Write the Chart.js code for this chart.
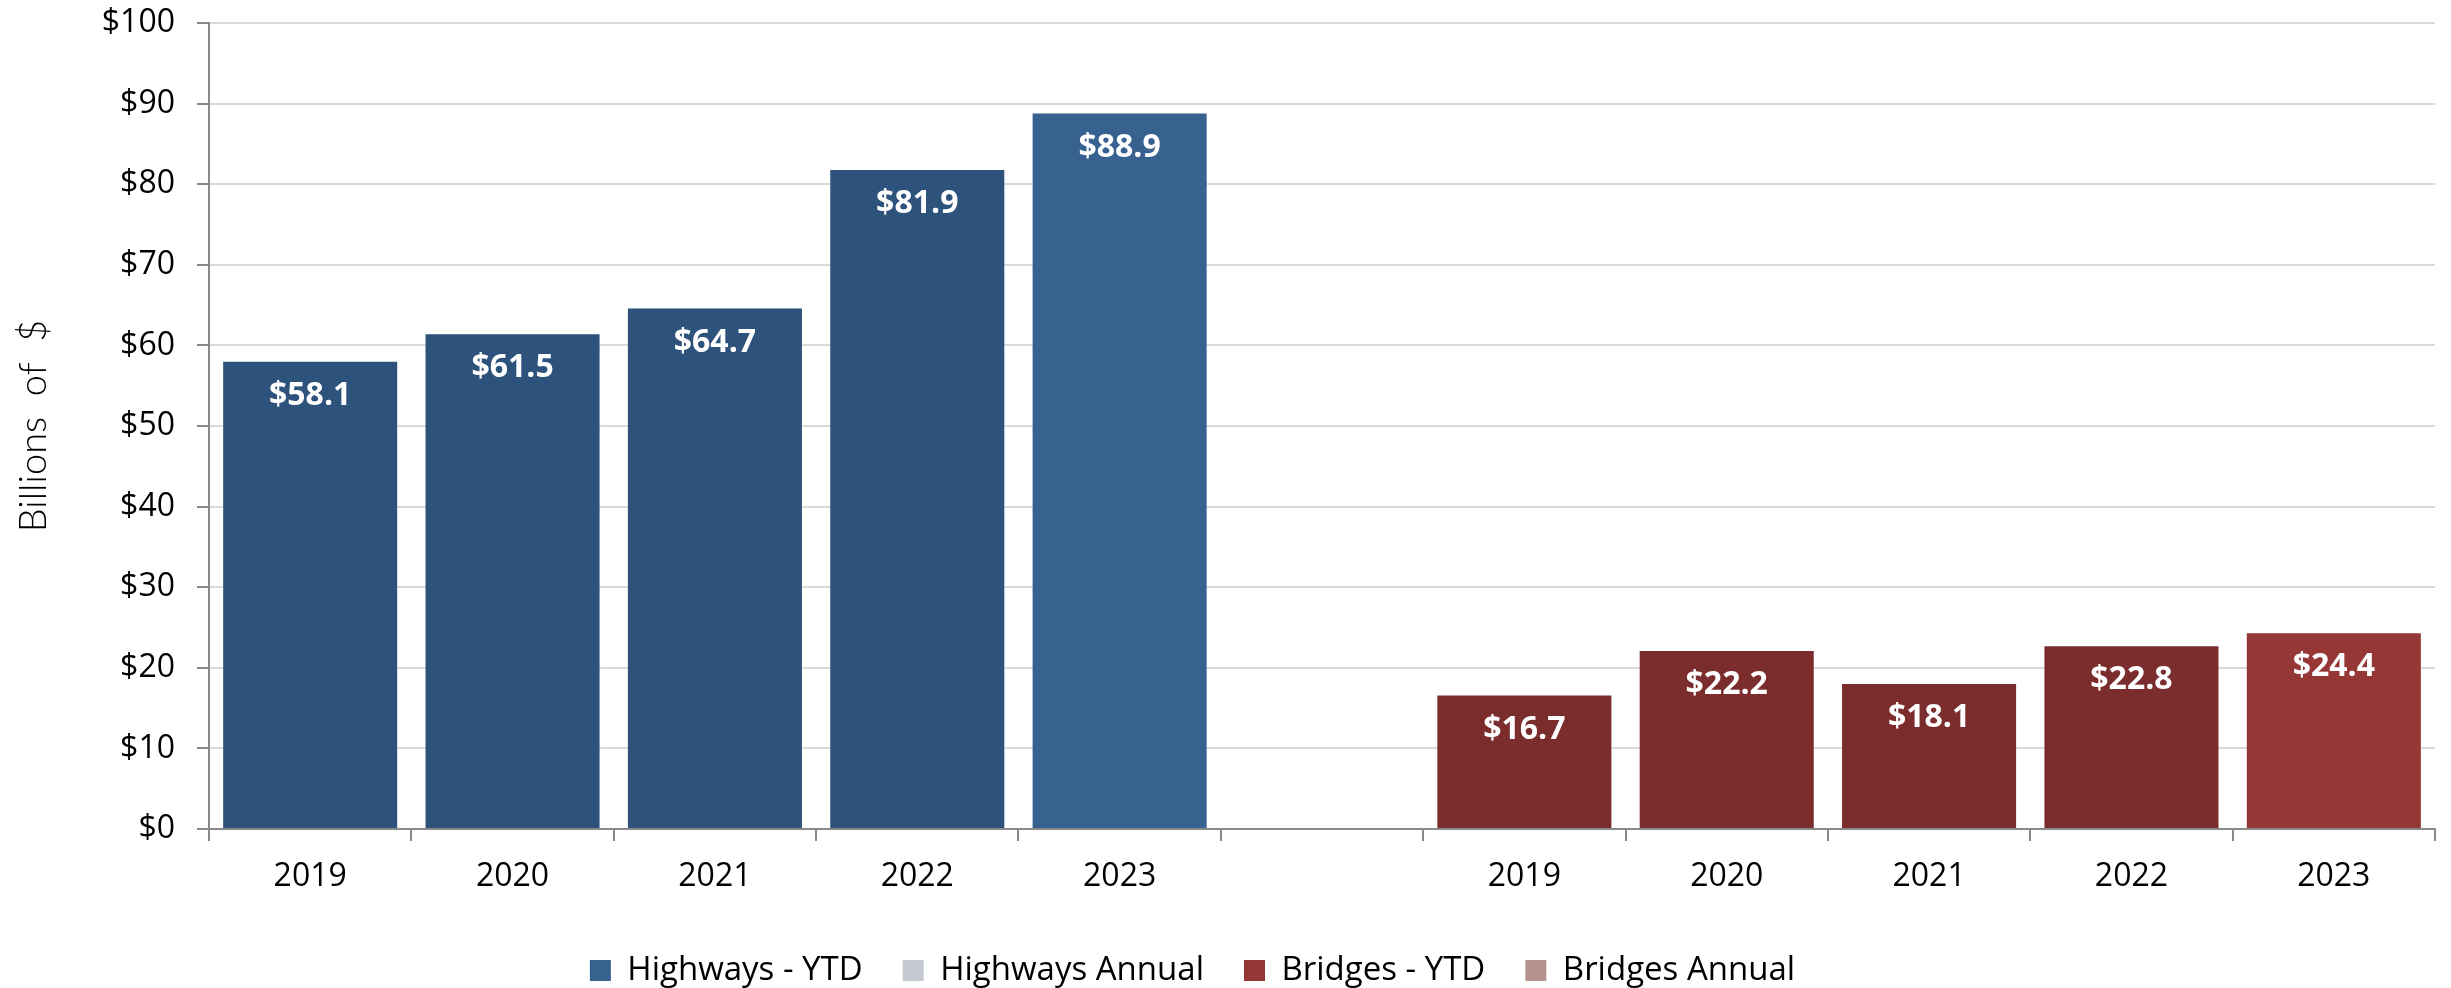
<!DOCTYPE html>
<html>
<head>
<meta charset="utf-8">
<script src="https://cdn.jsdelivr.net/npm/chart.js@4.4.1/dist/chart.umd.min.js"></script>
<style>
  html, body { margin: 0; padding: 0; background: #fff; }
  #wrap { width: 2451px; height: 988px; }
</style>
</head>
<body>
<div id="wrap"><canvas id="chart" width="2451" height="988"></canvas></div>
<script>
// categories (blank slot separates the two groups)
const categories = ['2019', '2020', '2021', '2022', '2023', '', '2019', '2020', '2021', '2022', '2023'];

// values in billions of dollars
const highwaysYTD = [58.1, 61.5, 64.7, 81.9, 88.9, null, null, null, null, null, null];
const highwaysAnnual = [null, null, null, null, null, null, null, null, null, null, null];
const bridgesYTD = [null, null, null, null, null, null, 16.7, 22.2, 18.1, 22.8, 24.4];
const bridgesAnnual = [null, null, null, null, null, null, null, null, null, null, null];

const yTicks = [0, 10, 20, 30, 40, 50, 60, 70, 80, 90, 100];

// colours
const blueDark = '#2D527C';
const blueLight = '#37618F';
const redDark = '#7B2D2E';
const redLight = '#953735';

const highwayColors = categories.map((c, i) => i === 4 ? blueLight : blueDark);
const bridgeColors = categories.map((c, i) => i === 10 ? redLight : redDark);

// draw the white value labels just under the top of each bar
const valueLabels = {
    id: 'valueLabels',
    afterDatasetsDraw(chart) {
        const ctx = chart.ctx;
        ctx.save();
        ctx.font = 'bold 32px "Open Sans"';
        ctx.fillStyle = '#FFFFFF';
        ctx.textAlign = 'center';
        ctx.textBaseline = 'middle';
        chart.data.datasets.forEach((ds, di) => {
            const meta = chart.getDatasetMeta(di);
            meta.data.forEach((bar, i) => {
                const v = ds.data[i];
                if (v === null || v === undefined) return;
                ctx.fillText('$' + v.toFixed(1), bar.x, bar.y + 35);
            });
        });
        ctx.restore();
    }
};

// nudge the legend to where the original sits
const legendShift = {
    id: 'legendShift',
    afterUpdate(chart) {
        chart.legend.left -= 25;
        chart.legend.right -= 25;
    }
};

const ctx = document.getElementById('chart');

new Chart(ctx, {
    type: 'bar',
    data: {
        labels: categories,
        datasets: [
            {
                label: 'Highways - YTD',
                data: highwaysYTD,
                backgroundColor: highwayColors,
                borderColor: 'rgba(255,255,255,0.25)',
                borderWidth: 1
            },
            {
                label: 'Highways Annual',
                data: highwaysAnnual,
                backgroundColor: '#C5CAD2'
            },
            {
                label: 'Bridges - YTD',
                data: bridgesYTD,
                backgroundColor: bridgeColors,
                borderColor: 'rgba(255,255,255,0.25)',
                borderWidth: 1
            },
            {
                label: 'Bridges Annual',
                data: bridgesAnnual,
                backgroundColor: '#B5918F'
            }
        ]
    },
    options: {
        responsive: false,
        animation: false,
        barPercentage: 0.87,
        categoryPercentage: 1.0,
        layout: {
            padding: { left: 0, right: 16, top: 23, bottom: 0 }
        },
        plugins: {
            legend: {
                position: 'bottom',
                maxHeight: 74,
                labels: {
                    generateLabels(chart) {
                        const fills = [blueLight, '#C5CAD2', redLight, '#B5918F'];
                        return chart.data.datasets.map((ds, i) => ({
                            text: ds.label,
                            fillStyle: fills[i],
                            strokeStyle: fills[i],
                            lineWidth: 0,
                            hidden: false,
                            datasetIndex: i,
                            fontColor: '#000'
                        }));
                    },
                    boxWidth: 21,
                    boxHeight: 21,
                    padding: 40,
                    color: '#000',
                    font: { family: '"Open Sans"', size: 33 }
                }
            },
            tooltip: { enabled: false }
        },
        scales: {
            x: {
                stacked: true,
                grid: {
                    offset: true,
                    drawOnChartArea: false,
                    drawTicks: true,
                    tickLength: 12,
                    tickColor: '#898989',
                    lineWidth: 2
                },
                border: { color: '#898989', width: 2 },
                ticks: {
                    color: '#000',
                    padding: 17,
                    maxRotation: 0,
                    autoSkip: false,
                    font: { family: '"Open Sans"', size: 32 }
                },
                afterFit(scale) {
                    scale.height = 85;
                    scale.paddingLeft = 0;
                    scale.paddingRight = 0;
                }
            },
            y: {
                stacked: true,
                min: 0,
                max: 100,
                afterBuildTicks(scale) {
                    scale.ticks = yTicks.map(v => ({ value: v }));
                },
                grid: {
                    color: '#D9D9D9',
                    lineWidth: 2,
                    tickLength: 12,
                    tickColor: '#898989'
                },
                border: { color: '#898989', width: 2 },
                ticks: {
                    color: '#000',
                    padding: 22,
                    font: { family: '"Open Sans"', size: 32 },
                    callback: v => '$' + v
                },
                title: {
                    display: true,
                    text: 'Billions  of  $',
                    color: '#000',
                    padding: { top: 11, bottom: 0 },
                    font: { family: 'Lato', size: 38, weight: '300' }
                },
                afterFit(scale) {
                    scale.width = 209;
                    scale.paddingTop = 0;
                    scale.paddingBottom = 0;
                }
            }
        }
    },
    plugins: [valueLabels, legendShift]
});
</script>
</body>
</html>
